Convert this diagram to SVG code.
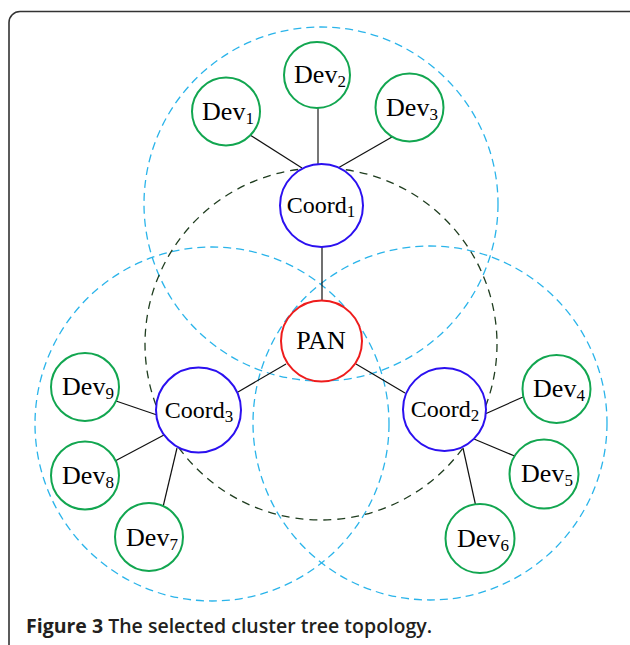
<svg xmlns="http://www.w3.org/2000/svg" width="630" height="645" viewBox="0 0 630 645">
<style>
.frame{fill:none;stroke:#333;stroke-width:1.6}
.range{fill:none;stroke:#2ab4ea;stroke-width:1.3;stroke-dasharray:8 5}
.core{fill:none;stroke:#1f3d1f;stroke-width:1.3;stroke-dasharray:8 6}
.link{stroke:#111;stroke-width:1.2}
.dev{fill:#fff;stroke:#12a650;stroke-width:2}
.coord{fill:#fff;stroke:#2b10f0;stroke-width:2}
.pan{fill:#fff;stroke:#ee1c1c;stroke-width:2}
.lbl{font-family:"Liberation Serif","Times New Roman",serif;fill:#000;text-anchor:middle}
.d{font-size:26px}
.c{font-size:24px}
.sub{font-size:17px}
.cap{font-family:"Open Sans","Noto Sans","Liberation Sans",sans-serif;font-size:20px;fill:#231f20}
</style>
<rect class="frame" x="9" y="11.5" width="640" height="660" rx="11"/>
<g id="ranges">
<circle class="range" cx="321" cy="204" r="177"/>
<circle class="range" cx="212" cy="424" r="177"/>
<circle class="range" cx="430" cy="423" r="177"/>
<circle class="core" cx="321" cy="344" r="176"/>
</g>
<g id="connectors">
<line class="link" x1="250" y1="135" x2="302" y2="168"/>
<line class="link" x1="318" y1="108" x2="318" y2="165" style="stroke:#555;stroke-width:1.6"/>
<line class="link" x1="392" y1="137" x2="338" y2="168"/>
<line class="link" x1="322" y1="246" x2="322" y2="301"/>
<line class="link" x1="286" y1="364" x2="238" y2="392"/>
<line class="link" x1="356" y1="364" x2="405" y2="393"/>
<line class="link" x1="157" y1="415" x2="116" y2="401"/>
<line class="link" x1="164" y1="435" x2="115" y2="461"/>
<line class="link" x1="177" y1="448" x2="163" y2="507"/>
<line class="link" x1="485" y1="414" x2="523" y2="397"/>
<line class="link" x1="474" y1="439" x2="517" y2="457"/>
<line class="link" x1="463" y1="448" x2="476" y2="507"/>
</g>
<g id="dev1"><circle class="dev" cx="226" cy="111.5" r="34"/><text class="lbl d" x="228" y="120">Dev<tspan class="sub" dy="4">1</tspan></text></g>
<g id="dev2"><circle class="dev" cx="317" cy="75" r="33"/><text class="lbl d" x="320" y="83">Dev<tspan class="sub" dy="4">2</tspan></text></g>
<g id="dev3"><circle class="dev" cx="409.5" cy="107.5" r="34"/><text class="lbl d" x="412" y="116">Dev<tspan class="sub" dy="4">3</tspan></text></g>
<g id="coord1"><circle class="coord" cx="321.5" cy="205.5" r="41.5"/><text class="lbl c" x="321" y="213">Coord<tspan class="sub" dy="4">1</tspan></text></g>
<g id="pan"><circle class="pan" cx="321.5" cy="341" r="40.5"/><text class="lbl" x="321" y="349" style="font-size:26px">PAN</text></g>
<g id="coord3"><circle class="coord" cx="198.5" cy="410" r="42.5"/><text class="lbl c" x="199" y="418">Coord<tspan class="sub" dy="4">3</tspan></text></g>
<g id="coord2"><circle class="coord" cx="444.5" cy="409.5" r="41.5"/><text class="lbl c" x="445" y="417">Coord<tspan class="sub" dy="4">2</tspan></text></g>
<g id="dev9"><circle class="dev" cx="85" cy="387" r="34"/><text class="lbl d" x="88" y="395">Dev<tspan class="sub" dy="4">9</tspan></text></g>
<g id="dev8"><circle class="dev" cx="85" cy="475.5" r="34"/><text class="lbl d" x="88" y="484">Dev<tspan class="sub" dy="4">8</tspan></text></g>
<g id="dev7"><circle class="dev" cx="149" cy="537" r="34"/><text class="lbl d" x="152" y="546">Dev<tspan class="sub" dy="4">7</tspan></text></g>
<g id="dev4"><circle class="dev" cx="556.5" cy="389" r="34"/><text class="lbl d" x="559" y="397">Dev<tspan class="sub" dy="4">4</tspan></text></g>
<g id="dev5"><circle class="dev" cx="544" cy="474" r="34.5"/><text class="lbl d" x="547" y="482">Dev<tspan class="sub" dy="4">5</tspan></text></g>
<g id="dev6"><circle class="dev" cx="480" cy="538.5" r="34.5"/><text class="lbl d" x="483" y="547">Dev<tspan class="sub" dy="4">6</tspan></text></g>
<text class="cap" x="26" y="633" textLength="406" lengthAdjust="spacingAndGlyphs"><tspan font-weight="bold">Figure 3</tspan><tspan font-weight="600"> The selected cluster tree topology.</tspan></text>
</svg>
